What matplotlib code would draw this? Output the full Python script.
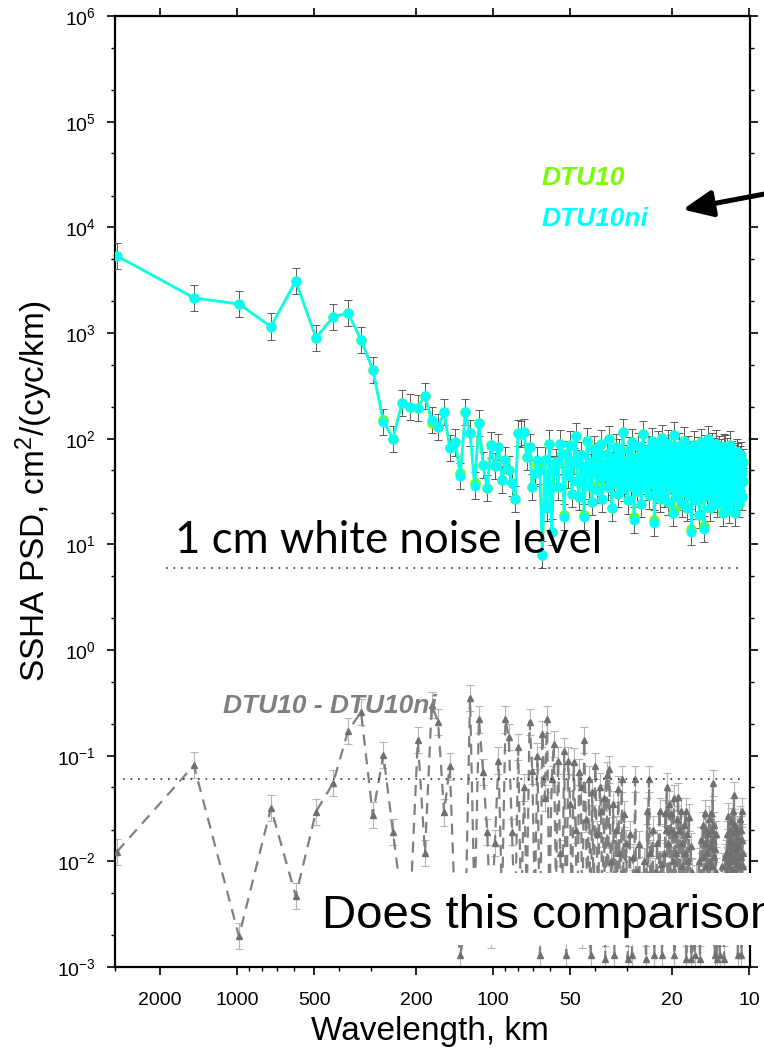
"""
SSHA wavenumber spectra: DTU10 vs DTU10ni mean sea surface, plus their difference.
"""

import numpy as np
import matplotlib.pyplot as plt
from matplotlib.patches import Rectangle
from matplotlib.ticker import FixedLocator, FixedFormatter, NullFormatter

plt.rcParams['font.family'] = ['Liberation Sans', 'DejaVu Sans']
plt.rcParams['mathtext.fontset'] = 'custom'
plt.rcParams['mathtext.rm'] = 'Liberation Sans'
plt.rcParams['mathtext.it'] = 'Liberation Sans:italic'

# spectral estimates: wavelength = record_length / k
record_length = 2950.0  # km
ci_factor = 1.33        # multiplicative half-width of the error bars

psd_dtu10ni = [
    5370, 2150, 1880, 1150, 3100, 900, 1420, 1550, 860, 450,
    145, 100, 218, 200, 195, 255, 150, 128, 178, 82,
    92, 44, 178, 113, 36, 140, 56, 34, 87, 55,
    83, 41, 63, 51, 38, 27, 113, 110, 116, 67,
    84, 35, 47, 63, 50, 8, 63, 22, 90, 13,
    51, 60, 35, 90, 72, 18, 72,
    45, 88, 30, 62, 105, 40, 28, 70, 55, 18, 48, 95, 36, 60, 25, 80, 52, 33, 68, 42,
    90, 27, 58, 44, 72, 35, 100, 50, 22, 65, 38, 84, 46, 30, 75, 56, 40, 115, 34, 62,
    48, 26, 78, 54, 36, 92, 44, 17, 66, 50, 32, 86, 58, 40, 24, 70, 110, 45, 62, 35,
    52, 80, 29, 64, 42, 95, 38, 56, 16, 74, 48, 33, 88, 60, 27, 68, 44, 102, 37, 55,
    30, 76, 50, 41, 90, 25, 62, 47, 35, 82, 57, 20, 70, 108, 39, 53, 28, 66, 45, 86,
    34, 60, 48, 24, 74, 42, 96, 31, 58, 45, 68, 22, 52, 80, 38, 63, 29, 47, 13, 72,
    55, 36, 88, 44, 26, 66, 50, 33, 78, 41, 60, 19, 70, 46, 92, 35, 57, 28, 64, 14,
    48, 82, 38, 58, 30, 72, 44, 100, 36, 54, 22, 68, 47, 85, 32, 61, 40, 76, 27, 52,
    65, 35, 90, 45, 24, 70, 50, 38, 80, 30, 58, 42, 74, 28, 62, 48, 20, 84, 36, 81,
    55, 30, 68, 44, 25, 76, 52, 38, 64, 21, 58, 46, 88, 33, 60, 40, 72, 26, 50, 66,
    35, 56, 42, 20, 62, 48, 74, 30, 58, 40, 68, 24, 52, 45, 64, 32, 55, 38, 70, 28,
    48, 60, 40,
]

# DTU10 differs from DTU10ni only at a handful of estimates (k: value)
dtu10_changes = {11: 150, 17: 142, 22: 47, 25: 38, 44: 58, 48: 24, 56: 19, 67: 19,
                 75: 36, 105: 18, 126: 17, 150: 21, 176: 14, 197: 15}

psd_diff = [
    0.0123, 0.081, 0.00195, 0.032, 0.0047, 0.0295, 0.055, 0.17, 0.26, 0.0275,
    0.102, 0.019, 0.004, 0.0035, 0.14, 0.012, 0.30, 0.21, 0.029, 0.079,
    0.003, 0.0013, 0.0025, 0.35, 0.0035, 0.22, 0.07, 0.019, 0.002, 0.015,
    0.09, 0.004, 0.22, 0.15, 0.019, 0.0025, 0.12, 0.003, 0.05, 0.0045,
    0.21, 0.072, 0.004, 0.1, 0.0013, 0.16, 0.04, 0.22, 0.003, 0.06,
    0.13, 0.005, 0.09, 0.012, 0.004, 0.11, 0.0013, 0.09, 0.035, 0.003,
    0.088, 0.02, 0.0025, 0.07, 0.05, 0.002, 0.14, 0.025, 0.0035, 0.06,
    0.0013, 0.045, 0.004, 0.08, 0.018, 0.003, 0.051, 0.03, 0.0025, 0.04,
    0.0012, 0.065, 0.003, 0.074, 0.01, 0.004, 0.035, 0.0013, 0.02, 0.0025,
    0.048, 0.012, 0.003, 0.06, 0.0045, 0.028, 0.004, 0.015, 0.0012, 0.0025,
    0.018, 0.003, 0.0013, 0.011, 0.004, 0.06, 0.005, 0.008, 0.003, 0.0147,
    0.003, 0.006, 0.004, 0.004, 0.01, 0.0025, 0.0012, 0.03, 0.003, 0.06,
    0.012, 0.004, 0.003, 0.02, 0.0025, 0.0013, 0.008, 0.003, 0.015, 0.005,
    0.004, 0.03, 0.004, 0.0094, 0.0013, 0.0025, 0.012, 0.003, 0.0285, 0.02,
    0.051, 0.0025, 0.015, 0.035, 0.003, 0.02, 0.028, 0.004, 0.01, 0.04,
    0.0013, 0.018, 0.012, 0.0025, 0.025, 0.041, 0.004, 0.02, 0.004, 0.03,
    0.015, 0.009, 0.003, 0.022, 0.0025, 0.012, 0.03, 0.0012, 0.018, 0.003,
    0.01, 0.026, 0.004, 0.0025, 0.014, 0.0012, 0.008, 0.004, 0.003, 0.0025,
    0.0013, 0.003, 0.004, 0.007, 0.004, 0.003, 0.0025, 0.01, 0.003, 0.0012,
    0.016, 0.004, 0.003, 0.0025, 0.022, 0.011, 0.003, 0.0285, 0.015, 0.009,
    0.02, 0.012, 0.004, 0.018, 0.007, 0.025, 0.01, 0.004, 0.0285, 0.014,
    0.02, 0.009, 0.055, 0.016, 0.011, 0.022, 0.0013, 0.013, 0.018, 0.008,
    0.0012, 0.0025, 0.004, 0.003, 0.0035, 0.004, 0.0013, 0.0025, 0.003, 0.003,
    0.009, 0.004, 0.003, 0.0025, 0.007, 0.0012, 0.003, 0.011, 0.004, 0.003,
    0.012, 0.008, 0.018, 0.01, 0.027, 0.014, 0.009, 0.02, 0.012, 0.016,
    0.011, 0.024, 0.0085, 0.015, 0.03, 0.01, 0.019, 0.042, 0.013, 0.008,
    0.022, 0.011, 0.015, 0.0095, 0.02, 0.012, 0.0013, 0.017, 0.009, 0.004,
    0.014, 0.025, 0.0025, 0.02, 0.011, 0.0013, 0.03, 0.016, 0.009, 0.012,
]

# 1 cm white-noise level for the PSD and for the difference
noise_levels = [6.0, 0.06]
noise_spans = [(1900, 10.5), (2800, 10.5)]

major_wl = [2000, 1000, 500, 200, 100, 50, 20, 10]
minor_wl = [3000, 900, 800, 700, 600, 400, 300, 90, 80, 70, 60, 40, 30, 9]

k = np.arange(1, len(psd_dtu10ni) + 1)
wavelength = record_length / k
psd_ni = np.array(psd_dtu10ni, dtype=float)
psd_10 = psd_ni.copy()
for kk, v in dtu10_changes.items():
    psd_10[kk - 1] = v
diff = np.array(psd_diff, dtype=float)


def yerr_of(v):
    return np.vstack([v - v / ci_factor, v * ci_factor - v])


fig = plt.figure(figsize=(7.64, 10.51), dpi=100)
ax = fig.add_axes([115 / 764, 84 / 1051, 635 / 764, 951 / 1051])

# difference spectrum
ax.errorbar(wavelength, diff, yerr=yerr_of(diff), fmt='none', ecolor='#b5b5b5',
            elinewidth=0.8, capsize=3, capthick=0.8, zorder=2)
ax.plot(wavelength, diff, color='#808080', lw=1.6, ls=(0, (5, 3.5)),
        marker='^', ms=4, mfc='#707070', mec='#707070', zorder=3)

# PSDs
ax.errorbar(wavelength, psd_ni, yerr=yerr_of(psd_ni), fmt='none', ecolor='#5a5a5a',
            elinewidth=0.7, capsize=3, capthick=0.7, zorder=4)
ax.plot(wavelength, psd_10, color='#7cfc00', lw=1.9, marker='o', ms=7.6,
        mec='none', zorder=5)
ax.plot(wavelength, psd_ni, color='#00ffff', lw=1.8, marker='o', ms=7.2,
        mec='none', zorder=6)

for lev, (x0, x1) in zip(noise_levels, noise_spans):
    ax.plot([x0, x1], [lev, lev], color='#333333', lw=1.2, ls=(0, (1, 3.5)), zorder=7)

ax.set_xscale('log')
ax.set_yscale('log')
ax.set_xlim(3000, 9.9)
ax.set_ylim(1e-3, 1e6)

ax.xaxis.set_major_locator(FixedLocator(major_wl))
ax.xaxis.set_major_formatter(FixedFormatter([str(w) for w in major_wl]))
ax.xaxis.set_minor_locator(FixedLocator(minor_wl))
ax.xaxis.set_minor_formatter(NullFormatter())
ax.yaxis.set_major_locator(FixedLocator([10.0 ** e for e in range(-3, 7)]))
ax.yaxis.set_minor_locator(FixedLocator([m * 10.0 ** e for e in range(-3, 6) for m in (2, 5)]))
ax.yaxis.set_minor_formatter(NullFormatter())

ax.tick_params(which='major', direction='out', length=6, width=1.2, labelsize=14,
               right=True, top=True, pad=8)
ax.tick_params(which='minor', direction='out', length=3, width=1.0, right=True, top=False)
ax.tick_params(axis='x', which='major', pad=12)
for sp in ax.spines.values():
    sp.set_linewidth(1.6)

ax.set_xlabel('Wavelength, km', fontsize=24)
ax.set_ylabel('SSHA PSD, cm$^2$/(cyc/km)', fontsize=24)
ax.xaxis.set_label_coords(0.496, -0.052)
ax.yaxis.set_label_coords(-0.094, 0.5)

ax.text(0.672, 0.822, 'DTU10', transform=ax.transAxes, color='#7cfc00',
        fontsize=19, fontweight='bold', fontstyle='italic', zorder=10)
ax.text(0.672, 0.779, 'DTU10ni', transform=ax.transAxes, color='#00ffff',
        fontsize=19, fontweight='bold', fontstyle='italic', zorder=10)
ax.text(0.170, 0.267, 'DTU10 - DTU10ni', transform=ax.transAxes, color='#7f7f7f',
        fontsize=19, fontweight='bold', fontstyle='italic', zorder=10)
ax.text(0.0945, 0.435, '1 cm white noise level', transform=ax.transAxes,
        fontsize=31.5, family=['Lato', 'DejaVu Sans'], color='black', zorder=10)

# overlay box with the question (runs off the right edge, as in the slide)
fig.patches.append(Rectangle((316 / 764, 1 - 945 / 1051), 0.6, 72 / 1051,
                             transform=fig.transFigure, facecolor='white',
                             edgecolor='none', zorder=20))
fig.text(322 / 764, 1 - 928 / 1051, 'Does this comparison', fontsize=34,
         family=['Liberation Sans', 'DejaVu Sans'], color='black', zorder=21)

ax.annotate('', xy=(680 / 764, 1 - 210 / 1051), xytext=(775 / 764, 1 - 192 / 1051),
            xycoords='figure fraction', textcoords='figure fraction',
            arrowprops=dict(arrowstyle='-|>,head_length=0.9,head_width=0.4',
                            mutation_scale=20, lw=3.6, color='black'),
            annotation_clip=False, zorder=22)

fig.savefig('out.png', dpi=100)
